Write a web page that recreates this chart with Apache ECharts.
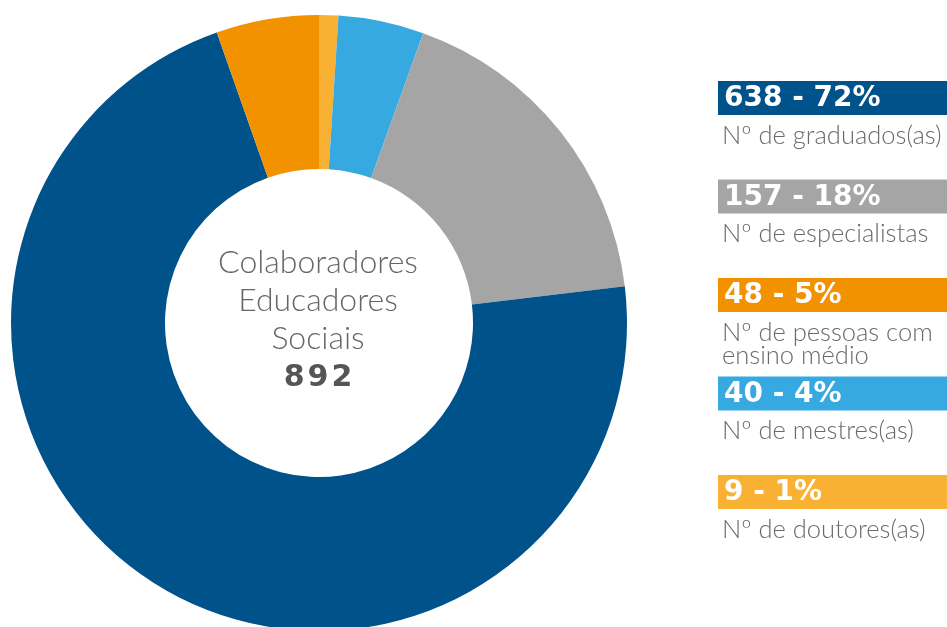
<!DOCTYPE html>
<html>
<head>
<meta charset="utf-8">
<script src="https://cdn.jsdelivr.net/npm/echarts@6/dist/echarts.min.js"></script>
<style>
  html, body { margin: 0; padding: 0; background: #fff; }
  #chart { width: 947px; height: 627px; }
</style>
</head>
<body>
<div id="chart"></div>
<script>
// legend order (top to bottom)
const categories = ['Nº de graduados(as)', 'Nº de especialistas', 'Nº de pessoas com\nensino médio', 'Nº de mestres(as)', 'Nº de doutores(as)'];
const values = [638, 157, 48, 40, 9];
const colors = ['#00528a', '#a5a5a5', '#f39200', '#36a9e1', '#f8b133'];
// slice order clockwise from 12 o'clock (indexes into the arrays above)
const pieOrder = [4, 3, 1, 0, 2];
const centerLines = ['Colaboradores', 'Educadores', 'Sociais'];

const total = values.reduce((a, b) => a + b, 0);
const chart = echarts.init(document.getElementById('chart'));

const graphic = [];
const thin = '300 32px Lato, "Open Sans", sans-serif';
centerLines.forEach((t, i) => {
  graphic.push({
    type: 'text', silent: true,
    style: { text: t, x: 318, y: 263 + i * 38, font: thin, fill: '#666',
      textAlign: 'center', textVerticalAlign: 'middle', align: 'center', verticalAlign: 'middle' }
  });
});
graphic.push({
  type: 'text', silent: true,
  style: { text: String(total).split('').join('\u200A'), x: 318, y: 378, font: 'bold 30px "DejaVu Sans", sans-serif', fill: '#555',
    textAlign: 'center', textVerticalAlign: 'middle', align: 'center', verticalAlign: 'middle' }
});

categories.forEach((name, i) => {
  const top = 81 + i * 98.5;
  graphic.push({
    type: 'rect', silent: true,
    shape: { x: 718, y: top, width: 240, height: 34 },
    style: { fill: colors[i] }
  });
  graphic.push({
    type: 'text', silent: true,
    style: { text: values[i] + ' - ' + Math.round(values[i] / total * 100) + '%', x: 724, y: top + 18,
      font: 'bold 28px "DejaVu Sans", sans-serif', fill: '#fff',
      textVerticalAlign: 'middle', verticalAlign: 'middle' }
  });
  graphic.push({
    type: 'text', silent: true,
    style: { text: name, x: 722, y: top + 43, font: '300 25.5px Lato, "Open Sans", sans-serif', fill: '#6a6a6a',
      lineHeight: 23, textVerticalAlign: 'top', verticalAlign: 'top' }
  });
});

chart.setOption({
  animation: false,
  graphic: graphic,
  series: [{
    type: 'pie',
    silent: true,
    center: [319, 323],
    radius: [154, 308],
    startAngle: 90,
    clockwise: true,
    label: { show: false },
    labelLine: { show: false },
    data: pieOrder.map((k) => ({ name: categories[k], value: values[k], itemStyle: { color: colors[k] } }))
  }]
});
</script>
</body>
</html>
